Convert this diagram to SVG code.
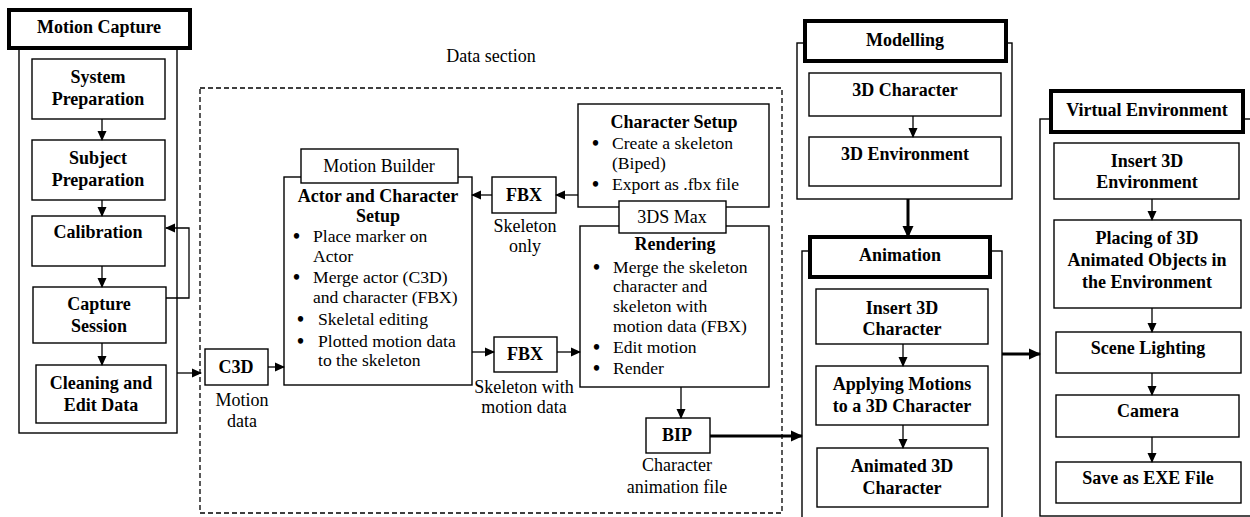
<svg xmlns="http://www.w3.org/2000/svg" width="1250" height="517" viewBox="0 0 1250 517">
<style>
.b{fill:#fff;stroke:#000;stroke-width:1.4}
.h{fill:#fff;stroke:#000;stroke-width:4}
.c{fill:none;stroke:#000;stroke-width:1.3}
.t{fill:none;stroke:#000;stroke-width:3}
text{font-family:"Liberation Serif","Times New Roman",serif;fill:#000}
.bt{font-size:18px;font-weight:bold;text-anchor:middle}
.rt{font-size:18px;text-anchor:middle}
.l{font-size:17.6px}
.d{font-size:20px;font-weight:bold}
</style>
<defs>
<marker id="a" markerWidth="10" markerHeight="10" refX="9" refY="5" orient="auto" markerUnits="userSpaceOnUse"><path d="M0,0.5 L10,5 L0,9.5 Z" fill="#000"/></marker>
<marker id="at" markerWidth="12" markerHeight="12" refX="11" refY="6" orient="auto" markerUnits="userSpaceOnUse"><path d="M0,0.5 L12,6 L0,11.5 Z" fill="#000"/></marker>
</defs>
<rect width="1250" height="517" fill="#fff"/>

<!-- Data section dashed area -->
<g id="data-section">
<rect x="200" y="88" width="582" height="425" fill="none" stroke="#000" stroke-width="1.3" stroke-dasharray="5,3"/>
<text class="rt" x="491" y="62">Data section</text>
</g>

<!-- Motion Capture -->
<g id="motion-capture">
<rect class="b" x="19" y="29" width="158" height="404"/>
<rect class="h" x="9" y="10" width="181" height="38"/>
<text class="bt" x="99" y="33">Motion Capture</text>
</g>
<g id="system-prep"><rect class="b" x="32" y="59" width="133" height="60"/><text class="bt" x="98" y="83">System</text><text class="bt" x="98" y="105">Preparation</text></g>
<g id="subject-prep"><rect class="b" x="32" y="140" width="133" height="60"/><text class="bt" x="98" y="164">Subject</text><text class="bt" x="98" y="186">Preparation</text></g>
<g id="calibration"><rect class="b" x="32" y="216" width="133" height="50"/><text class="bt" x="98" y="238">Calibration</text></g>
<g id="capture-session"><rect class="b" x="33" y="287" width="133" height="56"/><text class="bt" x="99" y="310">Capture</text><text class="bt" x="99" y="332">Session</text></g>
<g id="cleaning"><rect class="b" x="36" y="365" width="130" height="58"/><text class="bt" x="101" y="389">Cleaning and</text><text class="bt" x="101" y="411">Edit Data</text></g>

<!-- C3D -->
<g id="c3d"><rect class="b" x="205" y="349" width="63" height="36"/><text class="bt" x="236" y="373">C3D</text><text class="rt" x="242" y="406">Motion</text><text class="rt" x="242" y="427">data</text></g>

<!-- Motion Builder -->
<g id="motion-builder">
<rect class="b" x="284" y="177" width="188" height="208"/>
<rect class="b" x="301" y="149" width="157" height="34"/>
<text class="rt" x="379" y="172">Motion Builder</text>
<text class="bt" x="378" y="202">Actor and Character</text>
<text class="bt" x="378" y="222">Setup</text>
<g class="l">
<text class="d" x="293" y="243">•</text><text x="313" y="242">Place marker on</text>
<text x="313" y="262">Actor</text>
<text class="d" x="293" y="284">•</text><text x="313" y="283">Merge actor (C3D)</text>
<text x="313" y="303">and character (FBX)</text>
<text class="d" x="297" y="326">•</text><text x="318" y="325">Skeletal editing</text>
<text class="d" x="297" y="348">•</text><text x="318" y="347">Plotted motion data</text>
<text x="318" y="366">to the skeleton</text>
</g>
</g>

<!-- FBX boxes -->
<g id="fbx-top"><rect class="b" x="492" y="177" width="64" height="36"/><text class="bt" x="524" y="201">FBX</text><text class="rt" x="525" y="232">Skeleton</text><text class="rt" x="525" y="252">only</text></g>
<g id="fbx-bottom"><rect class="b" x="494" y="337" width="63" height="35"/><text class="bt" x="525" y="360">FBX</text><text class="rt" x="524" y="393">Skeleton with</text><text class="rt" x="524" y="413">motion data</text></g>

<!-- Character Setup -->
<g id="character-setup">
<rect class="b" x="578" y="104" width="191" height="103"/>
<text class="bt" x="674" y="128">Character Setup</text>
<g class="l">
<text class="d" x="592" y="150">•</text><text x="612" y="149">Create a skeleton</text>
<text x="612" y="169">(Biped)</text>
<text class="d" x="592" y="191">•</text><text x="612" y="190">Export as .fbx file</text>
</g>
</g>

<!-- Rendering -->
<g id="rendering">
<rect class="b" x="580" y="226" width="189" height="161"/>
<rect class="b" x="619" y="201" width="107" height="32"/>
<text class="rt" x="672" y="223">3DS Max</text>
<text class="bt" x="675" y="250">Rendering</text>
<g class="l">
<text class="d" x="593" y="274">•</text><text x="613" y="273">Merge the skeleton</text>
<text x="613" y="292">character and</text>
<text x="613" y="312">skeleton with</text>
<text x="613" y="332">motion data (FBX)</text>
<text class="d" x="593" y="354">•</text><text x="613" y="353">Edit motion</text>
<text class="d" x="593" y="375">•</text><text x="613" y="374">Render</text>
</g>
</g>

<!-- BIP -->
<g id="bip"><rect class="b" x="646" y="418" width="64" height="35"/><text class="bt" x="677" y="441">BIP</text><text class="rt" x="677" y="471">Character</text><text class="rt" x="677" y="493">animation file</text></g>

<!-- Modelling -->
<g id="modelling">
<rect class="b" x="797" y="43" width="215" height="156"/>
<rect class="h" x="805" y="21" width="201" height="40"/>
<text class="bt" x="905" y="46">Modelling</text>
</g>
<g id="3d-character"><rect class="b" x="809" y="73" width="192" height="43"/><text class="bt" x="905" y="96">3D Character</text></g>
<g id="3d-environment"><rect class="b" x="809" y="137" width="192" height="49"/><text class="bt" x="905" y="160">3D Environment</text></g>

<!-- Animation -->
<g id="animation">
<rect class="b" x="802" y="251" width="200" height="275"/>
<rect class="h" x="810" y="237" width="180" height="40"/>
<text class="bt" x="900" y="261">Animation</text>
</g>
<g id="insert-3d-character"><rect class="b" x="816" y="289" width="172" height="55"/><text class="bt" x="902" y="314">Insert 3D</text><text class="bt" x="902" y="335">Character</text></g>
<g id="applying-motions"><rect class="b" x="816" y="366" width="172" height="59"/><text class="bt" x="902" y="390">Applying Motions</text><text class="bt" x="902" y="412">to a 3D Character</text></g>
<g id="animated-3d-character"><rect class="b" x="817" y="448" width="171" height="59"/><text class="bt" x="902" y="472">Animated 3D</text><text class="bt" x="902" y="494">Character</text></g>

<!-- Virtual Environment -->
<g id="virtual-environment">
<rect class="b" x="1040" y="119" width="215" height="397"/>
<rect class="h" x="1051" y="91" width="192" height="41"/>
<text class="bt" x="1147" y="116">Virtual Environment</text>
</g>
<g id="insert-3d-environment"><rect class="b" x="1054" y="143" width="185" height="56"/><text class="bt" x="1147" y="167">Insert 3D</text><text class="bt" x="1147" y="188">Environment</text></g>
<g id="placing"><rect class="b" x="1054" y="220" width="187" height="88"/><text class="bt" x="1147" y="244">Placing of 3D</text><text class="bt" x="1147" y="266">Animated Objects in</text><text class="bt" x="1147" y="288">the Environment</text></g>
<g id="scene-lighting"><rect class="b" x="1056" y="332" width="185" height="41"/><text class="bt" x="1148" y="354">Scene Lighting</text></g>
<g id="camera"><rect class="b" x="1056" y="395" width="183" height="42"/><text class="bt" x="1148" y="417">Camera</text></g>
<g id="save-exe"><rect class="b" x="1056" y="462" width="185" height="41"/><text class="bt" x="1148" y="484">Save as EXE File</text></g>

<!-- Connectors -->
<g id="connectors">
<line class="c" x1="102" y1="119" x2="102" y2="140" marker-end="url(#a)"/>
<line class="c" x1="102" y1="200" x2="102" y2="216" marker-end="url(#a)"/>
<line class="c" x1="102" y1="266" x2="102" y2="287" marker-end="url(#a)"/>
<line class="c" x1="102" y1="343" x2="102" y2="365" marker-end="url(#a)"/>
<polyline class="c" points="166,298 189,298 189,228 166,228" marker-end="url(#a)"/>
<line class="c" x1="177" y1="373" x2="201" y2="373" marker-end="url(#a)"/>
<line class="c" x1="268" y1="367" x2="284" y2="367" marker-end="url(#a)"/>
<line class="c" x1="578" y1="195" x2="556" y2="195" marker-end="url(#a)"/>
<line class="c" x1="492" y1="195" x2="472" y2="195" marker-end="url(#a)"/>
<line class="c" x1="472" y1="352" x2="494" y2="352" marker-end="url(#a)"/>
<line class="c" x1="557" y1="352" x2="580" y2="352" marker-end="url(#a)"/>
<line class="c" x1="681" y1="387" x2="681" y2="418" marker-end="url(#a)"/>
<line class="t" x1="710" y1="436" x2="802" y2="436" marker-end="url(#at)"/>
<line class="c" x1="913" y1="116" x2="913" y2="137" marker-end="url(#a)"/>
<line class="t" x1="908" y1="199" x2="908" y2="237" marker-end="url(#at)"/>
<line class="c" x1="903" y1="344" x2="903" y2="366" marker-end="url(#a)"/>
<line class="c" x1="903" y1="425" x2="903" y2="448" marker-end="url(#a)"/>
<line class="t" x1="1002" y1="354" x2="1040" y2="354" marker-end="url(#at)"/>
<line class="c" x1="1152" y1="199" x2="1152" y2="220" marker-end="url(#a)"/>
<line class="c" x1="1152" y1="308" x2="1152" y2="332" marker-end="url(#a)"/>
<line class="c" x1="1152" y1="373" x2="1152" y2="395" marker-end="url(#a)"/>
<line class="c" x1="1152" y1="437" x2="1152" y2="462" marker-end="url(#a)"/>
</g>
</svg>
